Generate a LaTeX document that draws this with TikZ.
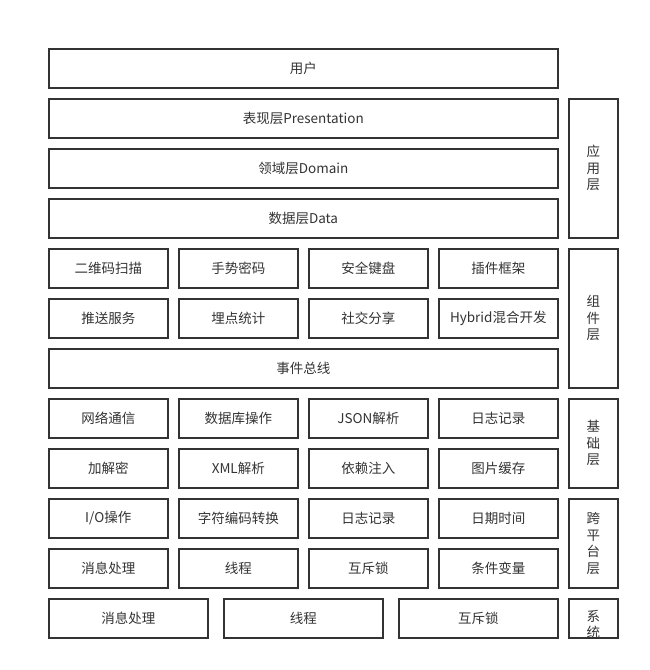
\documentclass[tikz,border=0pt]{standalone}
\usepackage{fontspec}
\setmainfont{Noto Sans CJK SC}
\begin{document}
\begin{tikzpicture}[x=1pt,y=-1pt,
  boxst/.style={draw=black!80,line width=1.6pt,fill=white,inner sep=0pt,anchor=north west},
  lbl/.style={text=black!80,font=\fontsize{13.5}{16.5}\selectfont,align=center,inner sep=0pt}]
\useasboundingbox (0,0) rectangle (650,670);
\newcommand{\bx}[6]{%
  \node[boxst,minimum width=#4-#2,minimum height=#5-#3] (#1) at (#2,#3) {};
  \node[lbl] (#1t) at (#1.center) {#6};}
% application layer
\bx{user}{48}{48}{557}{87}{用户}
\bx{pres}{48}{98}{557}{137}{表现层Presentation}
\bx{dom}{48}{148}{557}{187}{领域层Domain}
\bx{data}{48}{198}{557}{237}{数据层Data}
\bx{app}{568}{98}{617}{237}{应\\用\\层}
% component layer
\bx{c1}{48}{248}{167}{287}{二维码扫描}
\bx{c2}{178}{248}{297}{287}{手势密码}
\bx{c3}{308}{248}{427}{287}{安全键盘}
\bx{c4}{438}{248}{557}{287}{插件框架}
\bx{c5}{48}{298}{167}{337}{推送服务}
\bx{c6}{178}{298}{297}{337}{埋点统计}
\bx{c7}{308}{298}{427}{337}{社交分享}
\bx{c8}{438}{298}{557}{337}{Hybrid混合开发}
\bx{bus}{48}{348}{557}{387}{事件总线}
\bx{comp}{568}{248}{617}{387}{组\\件\\层}
% base layer
\bx{b1}{48}{398}{167}{437}{网络通信}
\bx{b2}{178}{398}{297}{437}{数据库操作}
\bx{b3}{308}{398}{427}{437}{JSON解析}
\bx{b4}{438}{398}{557}{437}{日志记录}
\bx{b5}{48}{448}{167}{487}{加解密}
\bx{b6}{178}{448}{297}{487}{XML解析}
\bx{b7}{308}{448}{427}{487}{依赖注入}
\bx{b8}{438}{448}{557}{487}{图片缓存}
\bx{base}{568}{398}{617}{487}{基\\础\\层}
% cross-platform layer
\bx{p1}{48}{498}{167}{537}{I/O操作}
\bx{p2}{178}{498}{297}{537}{字符编码转换}
\bx{p3}{308}{498}{427}{537}{日志记录}
\bx{p4}{438}{498}{557}{537}{日期时间}
\bx{p5}{48}{548}{167}{587}{消息处理}
\bx{p6}{178}{548}{297}{587}{线程}
\bx{p7}{308}{548}{427}{587}{互斥锁}
\bx{p8}{438}{548}{557}{587}{条件变量}
\bx{plat}{568}{498}{617}{587}{跨\\平\\台\\层}
% system layer
\bx{s1}{48}{598}{207}{637}{消息处理}
\bx{s2}{223}{598}{382}{637}{线程}
\bx{s3}{398}{598}{557}{637}{互斥锁}
\node[boxst,minimum width=49,minimum height=39] (sys) at (568,598) {};
\node[lbl,yshift=-6] (syst) at (sys.center) {系\\统};
\end{tikzpicture}
\end{document}
